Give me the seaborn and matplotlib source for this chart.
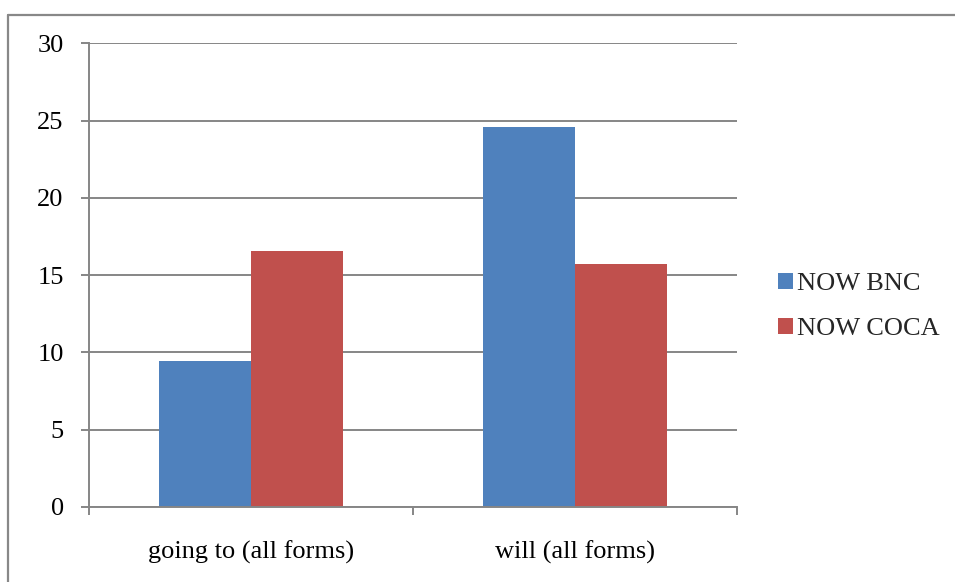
import matplotlib
matplotlib.use("Agg")
import matplotlib.pyplot as plt
from matplotlib.lines import Line2D
from matplotlib.patches import Patch
import seaborn as sns
import pandas as pd

# Frequencies per construction, two corpora
categories = ["going to (all forms)", "will (all forms)"]
series = ["NOW BNC", "NOW COCA"]
now_bnc = [9.46, 24.58]
now_coca = [16.57, 15.73]
y_ticks = [0, 5, 10, 15, 20, 25, 30]

colors = ["#4F81BD", "#C0504D"]
grid_grey = "#868686"

df = pd.DataFrame({
    "category": categories * 2,
    "series": [series[0]] * 2 + [series[1]] * 2,
    "value": now_bnc + now_coca,
})

sns.set_theme(style="white")
plt.rcParams["font.family"] = ["Liberation Serif", "DejaVu Serif"]
FS = 19

fig = plt.figure(figsize=(9.55, 5.82), dpi=100)
ax = fig.add_axes([0.0929, 0.1289, 0.6788, 0.7964])

sns.barplot(data=df, x="category", y="value", hue="series", order=categories,
            hue_order=series, palette=colors, width=0.568, gap=0,
            saturation=1, linewidth=0, ax=ax, legend=False, zorder=3)

ax.set_xlim(-0.5, 1.5)
ax.set_ylim(0, 30)
ax.set_yticks(y_ticks)
ax.set_yticklabels([str(t) for t in y_ticks], fontsize=FS, color="black")
ax.yaxis.grid(True, color=grid_grey, linewidth=1.4, zorder=0)
ax.set_axisbelow(True)
ax.tick_params(axis="y", direction="out", length=6, width=1.4, color=grid_grey, pad=12,
               left=True)

# category labels centred, boundary ticks between categories
ax.set_xticks([0, 1])
ax.set_xticklabels(categories, fontsize=FS, color="black")
ax.set_xticks([-0.5, 0.5, 1.5], minor=True)
ax.tick_params(axis="x", which="major", length=0, pad=24)
ax.tick_params(axis="x", which="minor", direction="out", length=6, width=1.4,
               color=grid_grey, bottom=True)
ax.set_xlabel("")
ax.set_ylabel("")

for side in ["top", "right"]:
    ax.spines[side].set_visible(False)
for side in ["left", "bottom"]:
    ax.spines[side].set_color(grid_grey)
    ax.spines[side].set_linewidth(1.4)
    ax.spines[side].set_zorder(4)

handles = [Patch(facecolor=c, edgecolor="none") for c in colors]
fig.legend(handles, series, loc="center left", bbox_to_anchor=(0.815, 0.473),
           frameon=False, fontsize=FS, handlelength=0.55, handleheight=0.55,
           handletextpad=0.15, labelspacing=0.85, borderpad=0, borderaxespad=0)

# outer chart border (left and top edges)
W, H = 955, 582
fig.add_artist(Line2D([8 / W, 1.0], [1 - 15 / H, 1 - 15 / H], transform=fig.transFigure,
                      color="#888888", linewidth=1.6))
fig.add_artist(Line2D([8 / W, 8 / W], [0.0, 1 - 15 / H], transform=fig.transFigure,
                      color="#888888", linewidth=1.6))

fig.savefig("out.png", dpi=100, facecolor="white")
